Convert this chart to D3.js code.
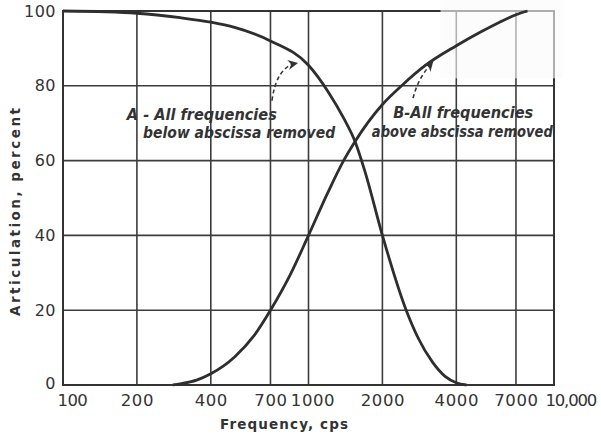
<!DOCTYPE html>
<html>
<head>
<meta charset="utf-8">
<script src="https://cdn.jsdelivr.net/npm/d3@7"></script>
<style>
  html, body { margin: 0; padding: 0; background: #fff; }
  svg { display: block; }
</style>
</head>
<body>
<svg id="chart" width="601" height="438"></svg>
<script>
// ---- data ----
const xTicks = [100, 200, 400, 700, 1000, 2000, 4000, 7000, 10000];
const xTickLabels = ["100", "200", "400", "700", "1000", "2000", "4000", "7000", "10,000"];
const yTicks = [0, 20, 40, 60, 80, 100];

// Curve A: all frequencies below abscissa removed
const freqA = [100, 150, 200, 300, 400, 500, 700, 1000, 1200, 1400, 1550, 1700, 2000, 2500, 2800, 3200, 3600, 4000, 4400];
const valA  = [100, 99.8, 99.4, 98.2, 97, 95.6, 92, 85.5, 78.5, 71, 65, 57, 40, 20, 12.5, 6.1, 2.3, 0.6, 0];

// Curve B: all frequencies above abscissa removed
const freqB = [280, 300, 350, 400, 500, 600, 700, 850, 1000, 1200, 1390, 1550, 2000, 2420, 3000, 4000, 5000, 6000, 7000, 7800];
const valB  = [0, 0.3, 1.3, 3, 7.5, 13.2, 20, 30, 40, 51.5, 60, 65.2, 75, 80.3, 85.5, 90.7, 94.3, 97, 99, 100];

const labelA = ["A - All frequencies", "below abscissa removed"];
const labelB = ["B-All frequencies", "above abscissa removed"];

const xTitle = "Frequency, cps";
const yTitle = "Articulation, percent";

// ---- drawing ----
const svg = d3.select("#chart");
const ink = "#333";
const x = d3.scaleLog().domain([100, 10000]).range([63, 554]);
const y = d3.scaleLinear().domain([0, 100]).range([385, 11]);

// grid
const grid = svg.append("g").attr("stroke", "#3c3c3c").attr("stroke-width", 1.6);
grid.selectAll("line.v").data(xTicks.slice(1, -1)).join("line")
  .attr("x1", d => x(d)).attr("x2", d => x(d))
  .attr("y1", y(0)).attr("y2", y(100));
grid.selectAll("line.h").data(yTicks.slice(1, -1)).join("line")
  .attr("x1", x(100)).attr("x2", x(10000))
  .attr("y1", d => y(d)).attr("y2", d => y(d));
svg.append("rect")
  .attr("x", x(100)).attr("y", y(100))
  .attr("width", x(10000) - x(100)).attr("height", y(0) - y(100))
  .attr("fill", "none").attr("stroke", "#333").attr("stroke-width", 2);

// faded scan patch at top right
svg.append("rect")
  .attr("x", x(3450)).attr("y", 0)
  .attr("width", 601 - x(3450) - 38).attr("height", y(82))
  .attr("fill", "#fafafa").attr("opacity", 0.62);

// axes
const xAxis = svg.append("g").attr("transform", `translate(0,${y(0)})`)
  .call(d3.axisBottom(x).tickValues(xTicks).tickFormat((d, i) => xTickLabels[i]).tickSize(0).tickPadding(9));
xAxis.select(".domain").remove();
xAxis.selectAll("text")
  .attr("font-family", "DejaVu Sans, sans-serif").attr("font-size", 16.5)
  .attr("fill", ink).attr("letter-spacing", 0.6)
  .attr("dx", d => d === 1000 ? 4 : 0)
  .each(function(d, i) {
    if (i === 0) {
      d3.select(this).attr("text-anchor", "start").attr("dx", -6).attr("letter-spacing", -0.6);
    }
    if (i === xTicks.length - 1) {
      d3.select(this).attr("text-anchor", "start").attr("dx", -9).attr("letter-spacing", -1.2);
    }
  });

const yAxis = svg.append("g").attr("transform", `translate(${x(100)},0)`)
  .call(d3.axisLeft(y).tickValues(yTicks).tickSize(0).tickPadding(7));
yAxis.select(".domain").remove();
yAxis.selectAll("text")
  .attr("font-family", "DejaVu Sans, sans-serif").attr("font-size", 16)
  .attr("fill", ink).attr("letter-spacing", 0.5)
  .attr("dy", d => d === 0 ? "0.2em" : "0.32em");

// titles
svg.append("text")
  .attr("x", 284).attr("y", 429).attr("text-anchor", "middle")
  .attr("font-family", "DejaVu Sans, sans-serif").attr("font-weight", "bold").attr("font-size", 13.5)
  .attr("fill", ink).attr("textLength", 128).attr("lengthAdjust", "spacing")
  .text(xTitle);
svg.append("text")
  .attr("transform", "translate(20,212) rotate(-90)").attr("text-anchor", "middle")
  .attr("font-family", "DejaVu Sans, sans-serif").attr("font-weight", "bold").attr("font-size", 13.5)
  .attr("fill", ink).attr("textLength", 208).attr("lengthAdjust", "spacing")
  .text(yTitle);

// curves
const line = d3.line().x(d => x(d[0])).y(d => y(d[1])).curve(d3.curveMonotoneX);
svg.append("path").datum(freqA.map((f, i) => [f, valA[i]]))
  .attr("d", line).attr("fill", "none").attr("stroke", "#2e2e2e").attr("stroke-width", 2.8);
svg.append("path").datum(freqB.map((f, i) => [f, valB[i]]))
  .attr("d", line).attr("fill", "none").attr("stroke", "#2e2e2e").attr("stroke-width", 2.8);

// arrow marker
svg.append("defs").append("marker")
  .attr("id", "ah").attr("viewBox", "0 0 10 10").attr("refX", 8).attr("refY", 5)
  .attr("markerWidth", 10).attr("markerHeight", 10).attr("orient", "auto")
  .attr("markerUnits", "userSpaceOnUse")
  .append("path").attr("d", "M0,0 L10,5 L0,10 L3,5 Z").attr("fill", "#333");

// annotation arrows (data coordinates: [freq, value])
const arrowA = [[710, 76], [740, 85], [890, 86]];
const arrowB = [[2666, 76.7], [2790, 82], [3185, 86.2]];
function qpath(p) {
  return `M${x(p[0][0])},${y(p[0][1])} Q${x(p[1][0])},${y(p[1][1])} ${x(p[2][0])},${y(p[2][1])}`;
}
[arrowA, arrowB].forEach(p => {
  svg.append("path").attr("d", qpath(p))
    .attr("fill", "none").attr("stroke", "#333").attr("stroke-width", 1.6)
    .attr("stroke-dasharray", "4,3").attr("marker-end", "url(#ah)");
});

// annotation labels
function label(f, v, txt, len) {
  svg.append("text").attr("x", x(f)).attr("y", y(v))
    .attr("font-family", "DejaVu Sans, sans-serif").attr("font-style", "italic").attr("font-weight", "bold")
    .attr("font-size", 15.5).attr("fill", ink)
    .attr("textLength", len).attr("lengthAdjust", "spacingAndGlyphs")
    .text(txt);
}
label(182, 70.9, labelA[0], 150);
label(212, 66, labelA[1], 192);
label(2214, 71.4, labelB[0], 140);
label(1811, 66.3, labelB[1], 181);
</script>
</body>
</html>
